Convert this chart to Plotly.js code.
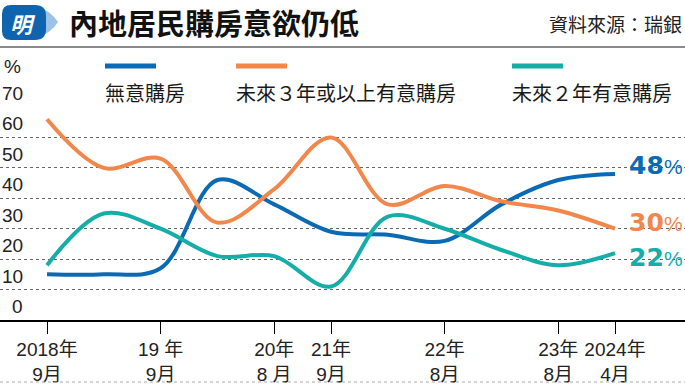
<!DOCTYPE html>
<html>
<head>
<meta charset="utf-8">
<script src="https://cdn.plot.ly/plotly-3.0.1.min.js"></script>
<style>html,body{margin:0;padding:0;background:#fff;}#chart{width:685px;height:384px;}</style>
</head>
<body>
<div id="chart"></div>
<script>
// ---- data ----
const surveyIndex = [0, 1, 2, 3, 4, 5, 6, 7, 8, 9, 10];
const seriesNames = ["無意購房", "未來３年或以上有意購房", "未來２年有意購房"];
const noIntent    = [15, 15, 17, 46, 38, 29, 28, 26, 38, 46, 48];
const intent3y    = [66, 50, 53, 32, 43, 60, 38, 44, 39, 36, 30];
const intent2y    = [18, 35, 30, 21, 21, 11, 34, 30, 23, 18, 22];
const tickPositions = [0, 2, 4, 5, 7, 9, 10];
const tickLabels = ["2018年<br>9月", "19 年<br>9月", "20年<br>8 月", "21年<br>9月", "22年<br>8月", "23年<br>8月", "2024年<br>4月"];
const yTicks = [0, 10, 20, 30, 40, 50, 60, 70];
const titleText = "內地居民購房意欲仍低";
const sourceText = "資料來源：瑞銀";

// ---- style ----
const colors = ["#0a6ab4", "#f2874c", "#14ada8"];
const W = 685, PLOT_TOP = 107, PLOT_BOTTOM = 320;
const PH = PLOT_BOTTOM - PLOT_TOP;
const px = x => x / W;
const py = y => (PLOT_BOTTOM - y) / PH;
const CJK = "Noto Sans CJK TC, Noto Sans CJK JP, sans-serif";
const LAT = "Liberation Sans, Arial, Noto Sans CJK TC, sans-serif";

const series = [noIntent, intent3y, intent2y];
const traces = series.map((vals, i) => ({
  x: surveyIndex, y: vals, type: "scatter", mode: "lines",
  name: seriesNames[i],
  line: {color: colors[i], width: 4, shape: "spline", smoothing: 1},
  hoverinfo: "skip", showlegend: false, cliponaxis: false
}));

// x range so that index 0 sits at pixel 47 and index 10 at pixel 615
const unit = (615 - 47) / 10;
const xRange = [-47 / unit, (W - 47) / unit];

const annotations = [];
const shapes = [];

// y tick labels sitting above gridlines
yTicks.forEach(v => annotations.push({
  xref: "paper", yref: "y", x: px(25), y: v, xanchor: "right", yanchor: "bottom",
  yshift: 1, text: String(v), showarrow: false,
  font: {family: LAT, size: 19, color: "#222"}
}));
annotations.push({xref: "paper", yref: "paper", x: px(2), y: py(79), xanchor: "left", yanchor: "bottom",
  text: "%", showarrow: false, font: {family: LAT, size: 19, color: "#222"}});

// legend (line above text)
const legendX = [104, 235, 511];
seriesNames.forEach((n, i) => {
  shapes.push({type: "line", xref: "paper", yref: "paper",
    x0: px(legendX[i] + 1), x1: px(legendX[i] + 52), y0: py(66), y1: py(66),
    line: {color: colors[i], width: 5}});
  annotations.push({xref: "paper", yref: "paper", x: px(legendX[i] - 1), y: py(93),
    xanchor: "left", yanchor: "middle", text: n, showarrow: false,
    font: {family: CJK, size: 20, color: "#1a1a1a"}});
});

// end labels
const endShift = [8, 6, -4];
series.forEach((vals, i) => {
  const last = vals[vals.length - 1];
  const lx = surveyIndex[surveyIndex.length - 1];
  annotations.push({xref: "x", yref: "y", x: lx, y: last,
    xanchor: "left", yanchor: "middle", xshift: 12, yshift: endShift[i], showarrow: false,
    text: "<b>" + last + "</b>",
    font: {family: "DejaVu Sans, sans-serif", size: 25, color: colors[i]}});
  annotations.push({xref: "x", yref: "y", x: lx, y: last,
    xanchor: "left", yanchor: "middle", xshift: 47, yshift: endShift[i] - 1, showarrow: false,
    text: "%",
    font: {family: LAT, size: 21, color: colors[i]}});
});

// title bar
annotations.push({xref: "paper", yref: "paper", x: px(67), y: py(22), xanchor: "left", yanchor: "middle",
  text: "<b>" + titleText + "</b>", showarrow: false,
  font: {family: CJK, size: 29, color: "#111", weight: 700}});
annotations.push({xref: "paper", yref: "paper", x: px(684), y: py(24), xanchor: "right", yanchor: "middle",
  text: sourceText, showarrow: false, font: {family: CJK, size: 19, color: "#222"}});
annotations.push({xref: "paper", yref: "paper", x: px(23), y: py(23), xanchor: "center", yanchor: "middle",
  text: "<b><i>明</i></b>", showarrow: false, font: {family: CJK, size: 22, color: "#ffffff"}});

const P = (x, y) => px(x) + "," + py(y);
shapes.push({type: "path", xref: "paper", yref: "paper", layer: "below",
  path: "M" + P(36, 5) + " Q" + P(52, 12) + " " + P(58, 22) + " Q" + P(52, 32) + " " + P(36, 39) + " Z",
  fillcolor: "#9dc2e8", line: {width: 0}});
shapes.push({type: "path", xref: "paper", yref: "paper", layer: "below",
  path: "M" + P(11, 5) + " L" + P(35, 5) + " Q" + P(46, 5) + " " + P(46, 16) + " L" + P(46, 29) +
        " Q" + P(46, 40) + " " + P(35, 40) + " L" + P(11, 40) + " Q" + P(2, 40) + " " + P(2, 31) +
        " L" + P(2, 14) + " Q" + P(2, 5) + " " + P(11, 5) + " Z",
  fillcolor: "#0f64b0", line: {width: 0}});
shapes.push({type: "line", xref: "paper", yref: "paper", x0: 0, x1: 1, y0: py(47), y1: py(47),
  line: {color: "#8a8a8a", width: 2}});
shapes.push({type: "line", xref: "paper", yref: "paper", x0: 0, x1: 1, y0: py(382), y1: py(382),
  line: {color: "#aaaaaa", width: 1, dash: "dot"}});

const layout = {
  width: 685, height: 384,
  margin: {l: 0, r: 0, t: PLOT_TOP, b: 384 - PLOT_BOTTOM, pad: 0},
  paper_bgcolor: "#ffffff", plot_bgcolor: "#ffffff",
  showlegend: false,
  xaxis: {range: xRange, tickmode: "array", tickvals: tickPositions, ticktext: tickLabels,
    ticks: "outside", ticklen: 12, tickwidth: 1, tickcolor: "#000",
    showline: true, linecolor: "#000", linewidth: 1.5, showgrid: false, zeroline: false,
    tickfont: {family: LAT, size: 19, color: "#222"}, fixedrange: true},
  yaxis: {range: [0, 70], tickvals: yTicks, showticklabels: false, ticks: "",
    showgrid: true, gridcolor: "#666", gridwidth: 1, griddash: "dot", zeroline: false,
    showline: false, fixedrange: true},
  annotations: annotations,
  shapes: shapes
};

Plotly.newPlot("chart", traces, layout, {displayModeBar: false, staticPlot: true});
</script>
</body>
</html>
